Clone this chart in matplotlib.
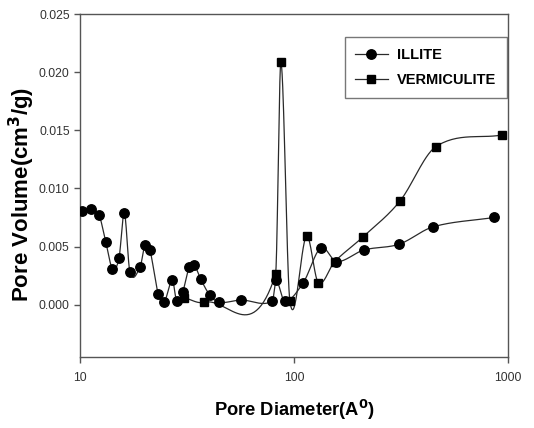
import numpy as np
import matplotlib
matplotlib.use("Agg")
import matplotlib.pyplot as plt
from matplotlib.lines import Line2D

plt.rcParams['font.family'] = ['Liberation Sans', 'DejaVu Sans']

# ---- data ----
illite_x = [10.25, 11.25, 12.27, 13.18, 14.16, 15.2, 16.1, 17.1, 19.05, 20.1, 21.2,
            23.2, 24.7, 27.0, 28.3, 30.2, 32.3, 34.2, 36.6, 40.5, 44.8, 56.4, 79.3,
            82.4, 90.5, 110.6, 133.6, 158, 212, 310, 448, 860]
illite_y = [0.0081, 0.0082, 0.0077, 0.0054, 0.0031, 0.0040, 0.0079, 0.0028, 0.0032,
            0.0051, 0.0047, 0.0009, 0.0002, 0.0021, 0.0003, 0.0011, 0.0032, 0.0034,
            0.0022, 0.0008, 0.0002, 0.0004, 0.0003, 0.0021, 0.0003, 0.0019, 0.0049,
            0.0037, 0.0047, 0.0052, 0.0067, 0.0075]
verm_x = [30.7, 37.9, 82.0, 86.9, 95.7, 114.5, 129.9, 155, 209.4, 312.6, 461, 940]
verm_y = [0.0006, 0.0002, 0.0026, 0.0209, 0.0003, 0.0059, 0.0019, 0.0037, 0.0058,
          0.0089, 0.0136, 0.0146]
series_names = ["ILLITE", "VERMICULITE"]
x_ticks = [10, 100, 1000]
x_ticklabels = ["10", "100", "1000"]
y_ticks = [0.000, 0.005, 0.010, 0.015, 0.020, 0.025]
y_ticklabels = ["0.000", "0.005", "0.010", "0.015", "0.020", "0.025"]


def cardinal_curve(x, y, per_seg=30):
    """Hermite spline in log-x with finite-difference tangents."""
    lx = np.log10(np.asarray(x, float))
    yy = np.asarray(y, float)
    n = len(lx)
    m = np.zeros(n)
    m[0] = (yy[1] - yy[0]) / (lx[1] - lx[0])
    m[-1] = (yy[-1] - yy[-2]) / (lx[-1] - lx[-2])
    for i in range(1, n - 1):
        m[i] = (yy[i + 1] - yy[i - 1]) / (lx[i + 1] - lx[i - 1])
    out_x, out_y = [], []
    for i in range(n - 1):
        h = lx[i + 1] - lx[i]
        s = np.linspace(0, 1, per_seg, endpoint=(i == n - 2))
        h00 = 2 * s ** 3 - 3 * s ** 2 + 1
        h10 = s ** 3 - 2 * s ** 2 + s
        h01 = -2 * s ** 3 + 3 * s ** 2
        h11 = s ** 3 - s ** 2
        out_y.append(h00 * yy[i] + h10 * h * m[i] + h01 * yy[i + 1] + h11 * h * m[i + 1])
        out_x.append(10 ** (lx[i] + s * h))
    return np.concatenate(out_x), np.concatenate(out_y)


fig = plt.figure(figsize=(5.34, 4.28), dpi=100)
ax = fig.add_axes([0.150, 0.166, 0.801, 0.801])
ax.set_xscale('log')
ax.set_xlim(10, 1000)
ax.set_ylim(-0.0045, 0.025)

lc = '#2a2a2a'
for xs, ys, mk, ms in [(illite_x, illite_y, 'o', 6.8), (verm_x, verm_y, 's', 5.6)]:
    cx, cy = cardinal_curve(xs, ys)
    ax.plot(cx, cy, color=lc, lw=0.9, zorder=2)
    ax.plot(xs, ys, linestyle='none', marker=mk, markersize=ms,
            color='black', zorder=3)

ax.set_xticks(x_ticks)
ax.set_xticklabels(x_ticklabels)
ax.xaxis.set_minor_locator(matplotlib.ticker.NullLocator())
ax.set_yticks(y_ticks)
ax.set_yticklabels(y_ticklabels)
ax.tick_params(axis='both', direction='out', length=4, width=1, color='#555555',
               labelsize=8.8, labelcolor='#333333')
ax.tick_params(axis='x', pad=7)
for s in ax.spines.values():
    s.set_color('#555555')
    s.set_linewidth(1.0)

ax.set_xlabel(r"Pore Diameter(A$^{\mathbf{0}}$)", fontsize=13.2, fontweight='bold', labelpad=10)
ax.set_ylabel(r"Pore Volume(cm$^{\mathbf{3}}$/g)", fontsize=16, fontweight='bold', labelpad=2)
ax.yaxis.set_label_coords(-0.100, 0.475)

handles = [Line2D([], [], color=lc, lw=0.9, marker='o', markersize=6.8, markerfacecolor='black', markeredgecolor='black'),
           Line2D([], [], color=lc, lw=0.9, marker='s', markersize=5.6, markerfacecolor='black', markeredgecolor='black')]
leg = ax.legend(handles, series_names, loc='upper right', bbox_to_anchor=(0.9985, 0.933),
                frameon=True, fancybox=False, edgecolor='#555555',
                prop={'weight': 'bold', 'size': 10.5}, handlelength=2.2, borderpad=0.75,
                labelspacing=0.75, handletextpad=0.65, borderaxespad=0)
leg.get_frame().set_linewidth(1.0)

fig.savefig("out.png", dpi=100, facecolor='white')
